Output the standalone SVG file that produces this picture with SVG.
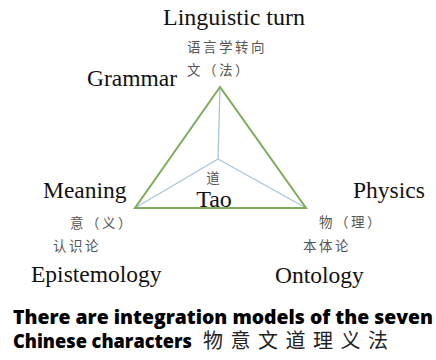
<svg xmlns="http://www.w3.org/2000/svg" width="436" height="360" viewBox="0 0 436 360">
<style>
.en{font-family:"Liberation Serif","Times New Roman",serif;font-size:23.5px;fill:#111}
.cn{font-family:"Noto Sans CJK SC",sans-serif;font-size:13.5px;fill:#555;letter-spacing:2.5px}
.cap{font-family:"Open Sans","Noto Sans","Noto Sans CJK SC",sans-serif;font-size:19px;font-weight:800;fill:#000}
.capcn{font-family:"Noto Sans CJK SC",sans-serif;font-size:20px;fill:#222}
.tri{fill:none;stroke:#7fab5b;stroke-width:2}
.spoke{fill:none;stroke:#a9c5d6;stroke-width:1.3}
</style>
<rect width="436" height="360" fill="#fff"/>
<g id="connectors">
<line class="spoke" x1="220" y1="87" x2="218" y2="159"/>
<line class="spoke" x1="135" y1="208" x2="218" y2="159"/>
<line class="spoke" x1="306" y1="208" x2="218" y2="159"/>
<polygon class="tri" points="220,87 135,208 306,208"/>
</g>
<g id="linguistic-turn">
<text class="en" x="163" y="25" textLength="142" lengthAdjust="spacingAndGlyphs">Linguistic turn</text>
<text class="cn" x="187" y="52">语言学转向</text>
</g>
<g id="grammar">
<text class="en" x="87" y="86">Grammar</text>
<text class="cn" x="187" y="75">文（法）</text>
</g>
<g id="meaning">
<text class="en" x="43" y="198">Meaning</text>
<text class="cn" x="70" y="228">意（义）</text>
</g>
<g id="epistemology">
<text class="cn" x="53" y="251">认识论</text>
<text class="en" x="31" y="282">Epistemology</text>
</g>
<g id="physics">
<text class="en" x="353" y="198">Physics</text>
<text class="cn" x="319" y="227">物（理）</text>
</g>
<g id="ontology">
<text class="cn" x="303" y="251">本体论</text>
<text class="en" x="275" y="283">Ontology</text>
</g>
<g id="tao">
<text class="cn" x="213" y="183" text-anchor="middle" style="letter-spacing:0">道</text>
<text class="en" x="214" y="207" text-anchor="middle" style="font-size:24px">Tao</text>
</g>
<g id="caption">
<text class="cap" x="13" y="324" textLength="420" lengthAdjust="spacingAndGlyphs">There are integration models of the seven</text>
<text class="cap" x="13" y="348" textLength="179" lengthAdjust="spacingAndGlyphs">Chinese characters</text>
<text class="capcn" x="203" y="348" letter-spacing="7.5">物意文道理义法</text>
</g>
</svg>
